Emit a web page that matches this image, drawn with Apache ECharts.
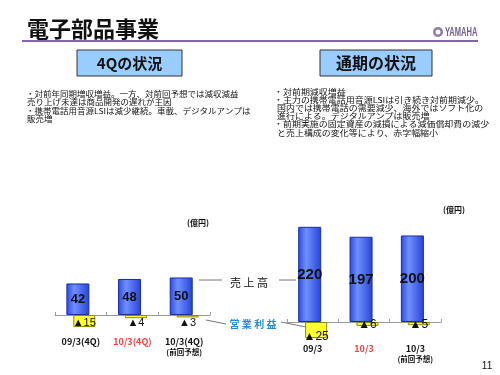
<!DOCTYPE html>
<html lang="ja">
<head>
<meta charset="UTF-8">
<title>電子部品事業</title>
<script src="https://cdn.jsdelivr.net/npm/echarts@6/dist/echarts.min.js"></script>
<style>
  html, body { margin: 0; padding: 0; background: #fff; }
</style>
</head>
<body>
<div id="main" style="width: 500px; height: 375px;"></div>
<script>
// 4Qの状況 (億円)
var qCats = ['09/3(4Q)', '10/3(4Q)', '10/3(4Q)\n(前回予想)'];
var qSales = [42, 48, 50];
var qProfit = [-15, -4, -3];
// 通期の状況 (億円)
var fyCats = ['09/3', '10/3', '10/3\n(前回予想)'];
var fySales = [220, 197, 200];
var fyProfit = [-25, -6, -5];

var JP = '"Noto Sans CJK JP", sans-serif';
var NUM = '"Liberation Sans Narrow", "Liberation Sans", Arial, sans-serif';

var chart = echarts.init(document.getElementById('main'));

var blueFill = new echarts.graphic.LinearGradient(0, 0, 1, 0, [
    { offset: 0, color: '#2b4ae2' },
    { offset: 0.35, color: '#6f8fff' },
    { offset: 1, color: '#2742d8' }
]);

function catLabel(value, index) {
    var parts = value.split('\n');
    var s = '{' + (index === 1 ? 'r' : 'n') + '|' + parts[0] + '}';
    if (parts[1]) s += '\n{s|' + parts[1] + '}';
    return s;
}
var catRich = {
    n: { color: '#111', fontSize: 9, fontWeight: 'bold', fontFamily: JP, lineHeight: 11 },
    r: { color: '#ff3b3b', fontSize: 9, fontWeight: 'bold', fontFamily: JP, lineHeight: 11 },
    s: { color: '#111', fontSize: 7.5, fontWeight: 'bold', fontFamily: JP, lineHeight: 10 }
};
function xAxisCfg(gi, cats, margin) {
    return {
        gridIndex: gi,
        type: 'category',
        data: cats,
        axisLine: { onZero: true, lineStyle: { color: '#999', width: 1 } },
        axisTick: { show: true, inside: true, length: 3, lineStyle: { color: '#999' } },
        axisLabel: { interval: 0, hideOverlap: false, margin: margin, formatter: catLabel, rich: catRich },
        splitLine: { show: false }
    };
}
function profitLabel(p) { return '▲' + Math.abs(p.value); }

function txt(x, y, text, font, extra) {
    var el = { type: 'text', x: x, y: y, style: { text: text, font: font, fill: '#111', verticalAlign: 'middle' } };
    for (var k in extra) {
        if (k === 'scaleX') el.scaleX = extra[k]; else el.style[k] = extra[k];
    }
    return el;
}
var bodyF = '7.8px ' + JP;
var sL = { scaleX: 1.09 };
var sR = { scaleX: 1.15 };

var option = {
    animation: false,
    grid: [
        { left: 55, top: 260, width: 155, height: 75, outerBoundsMode: 'none', containLabel: false },
        { left: 287, top: 200, width: 154, height: 141, outerBoundsMode: 'none', containLabel: false }
    ],
    xAxis: [xAxisCfg(0, qCats, 1), xAxisCfg(1, fyCats, 2.5)],
    yAxis: [
        { gridIndex: 0, type: 'value', min: -26.7, max: 73.3, show: false, splitLine: { show: false } },
        { gridIndex: 0, type: 'value', min: -25, max: 68.75, show: false, splitLine: { show: false } },
        { gridIndex: 1, type: 'value', min: -44, max: 282, show: false, splitLine: { show: false } },
        { gridIndex: 1, type: 'value', min: -29.7, max: 190.6, show: false, splitLine: { show: false } }
    ],
    series: [
        {
            type: 'bar', xAxisIndex: 0, yAxisIndex: 0, data: qSales,
            barWidth: 23, barGap: '-70%',
            itemStyle: { color: blueFill, borderColor: '#1c2c9c', borderWidth: 1 },
            label: { show: true, position: 'inside', color: '#111', fontSize: 13, fontWeight: 'bold', fontFamily: NUM }
        },
        {
            type: 'bar', xAxisIndex: 0, yAxisIndex: 1, data: qProfit,
            barWidth: 22, barGap: '-70%',
            itemStyle: { color: '#ffff33', borderColor: '#8a8a10', borderWidth: 1 },
            label: { show: true, position: 'insideTop', distance: 2, color: '#111', fontSize: 11, fontFamily: NUM, formatter: profitLabel }
        },
        {
            type: 'bar', xAxisIndex: 1, yAxisIndex: 2, data: fySales,
            barWidth: 23, barGap: '-70%',
            itemStyle: { color: blueFill, borderColor: '#1c2c9c', borderWidth: 1 },
            label: { show: true, position: 'inside', color: '#111', fontSize: 15, fontWeight: 'bold', fontFamily: NUM }
        },
        {
            type: 'bar', xAxisIndex: 1, yAxisIndex: 3, data: fyProfit,
            barWidth: 22, barGap: '-70%',
            itemStyle: { color: '#ffff33', borderColor: '#8a8a10', borderWidth: 1 },
            label: { show: true, position: 'insideBottom', distance: 0, offset: [0, 5], color: '#111', fontSize: 12, fontFamily: NUM, formatter: profitLabel }
        }
    ],
    graphic: [
        // header
        txt(27, 29, '電子部品事業', 'bold 22px ' + JP),
        { type: 'line', shape: { x1: 22, y1: 41, x2: 478, y2: 41 }, style: { stroke: '#8462b0', lineWidth: 2 } },
        { type: 'circle', shape: { cx: 438, cy: 32, r: 5 }, style: { fill: '#8a7aa8' } },
        { type: 'circle', shape: { cx: 438, cy: 32, r: 2.5 }, style: { fill: '#fff' } },
        txt(445, 32, 'YAMAHA', 'bold 13px "Liberation Sans", Arial, sans-serif', { fill: '#6e5e92', scaleX: 0.58 }),
        // section boxes
        { type: 'rect', shape: { x: 77, y: 50, width: 105, height: 26 }, style: { fill: '#99ccff', stroke: '#333', lineWidth: 1 } },
        txt(129.5, 63, '4Qの状況', 'bold 15px ' + JP, { align: 'center' }),
        { type: 'rect', shape: { x: 320, y: 50, width: 112, height: 26 }, style: { fill: '#99ccff', stroke: '#333', lineWidth: 1 } },
        txt(376, 63, '通期の状況', 'bold 16px ' + JP, { align: 'center' }),
        // left bullets
        txt(26, 94, '・対前年同期増収増益。一方、対前回予想では減収減益', bodyF, sL),
        txt(27, 102.5, '売り上げ未達は商品開発の遅れが主因', bodyF, sL),
        txt(26, 111, '・携帯電話用音源LSIは減少継続。車載、デジタルアンプは', bodyF, sL),
        txt(27, 119.5, '販売増', bodyF, sL),
        // right bullets
        txt(274, 92, '・対前期減収増益', bodyF, sR),
        txt(274, 100.3, '・主力の携帯電話用音源LSIは引き続き対前期減少。', bodyF, sR),
        txt(277, 108.5, '国内では携帯電話の需要減少、海外ではソフト化の', bodyF, sR),
        txt(277, 116.5, '進行による。デジタルアンプは販売増', bodyF, sR),
        txt(274, 124.5, '・前期実施の固定資産の減損による減価償却費の減少', bodyF, sR),
        txt(277, 132.7, 'と売上構成の変化等により、赤字幅縮小', bodyF, sR),
        // units
        txt(198, 223, '(億円)', 'bold 8px ' + JP, { align: 'center' }),
        txt(454, 210, '(億円)', 'bold 8px ' + JP, { align: 'center' }),
        // series callouts
        { type: 'line', shape: { x1: 199, y1: 280, x2: 222, y2: 280 }, style: { stroke: '#777', lineWidth: 1 } },
        txt(249, 283, '売 上 高', '11px ' + JP, { align: 'center' }),
        { type: 'line', shape: { x1: 279, y1: 280, x2: 296, y2: 280 }, style: { stroke: '#777', lineWidth: 1 } },
        { type: 'line', shape: { x1: 206, y1: 320, x2: 226, y2: 324 }, style: { stroke: '#777', lineWidth: 1 } },
        txt(253, 324, '営 業 利 益', 'bold 10px ' + JP, { align: 'center', fill: '#2a8ad8' }),
        { type: 'line', shape: { x1: 281, y1: 322, x2: 306, y2: 327 }, style: { stroke: '#777', lineWidth: 1 } },
        // page number
        txt(487, 366, '11', '10px ' + NUM, { align: 'center' })
    ]
};

chart.setOption(option);
</script>
</body>
</html>
